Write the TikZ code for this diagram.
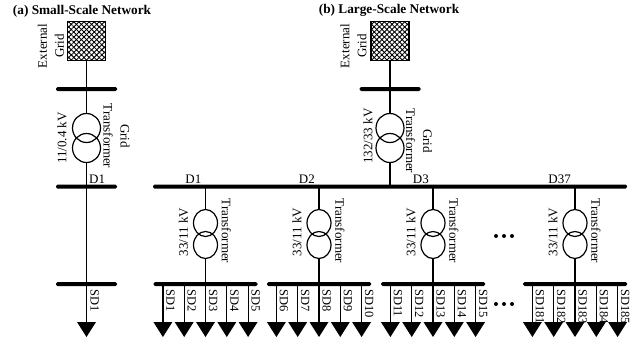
\documentclass[tikz,border=0pt]{standalone}
\usepackage{fontspec}
\setmainfont{Liberation Serif}
\usetikzlibrary{shapes.geometric,patterns.meta}
\begin{document}
\begin{tikzpicture}[x=1pt,y=-1pt,
  wire/.style={line width=1.2pt},
  busbar/.style={rectangle, fill=black, inner sep=0pt, minimum height=4pt, rounded corners=1.5pt},
  winding/.style={ellipse, draw, line width=1.2pt, inner sep=0pt},
  bigwinding/.style={winding, minimum width=28pt, minimum height=29pt},
  smallwinding/.style={winding, minimum width=24pt, minimum height=27pt},
  gridbox/.style={rectangle, draw, line width=1.2pt, minimum width=38pt, minimum height=39pt, inner sep=0pt,
    preaction={pattern={Lines[angle=45,distance=3.6pt,line width=0.9pt]}},
    pattern={Lines[angle=-45,distance=3.6pt,line width=0.9pt]}},
  lbl/.style={font=\fontsize{13}{17}\selectfont, inner sep=0pt, align=center},
  sdlbl/.style={font=\fontsize{12.5}{15}\selectfont, inner sep=0pt, rotate=-90, anchor=base west},
  ttl/.style={font=\fontsize{13.3}{16}\selectfont\bfseries, inner sep=0pt},
  loadtri/.style={fill=black}
]
\useasboundingbox (0,0) rectangle (634,340);

% ---------- (a) small-scale ----------
\node[ttl] (titleA) at (82,11) {(a) Small-Scale Network};
\node[gridbox] (egA) at (86.5,41) {};
\node[busbar, minimum width=61pt] (b0A) at (86.5,89) {};
\node[bigwinding] (t1A) at (86.5,128) {};
\node[bigwinding] (t2A) at (86.5,148) {};
\node[busbar, minimum width=61pt] (dA) at (86.5,186.5) {};
\node[busbar, minimum width=61pt] (sA) at (86.5,284) {};
\coordinate (ldA) at (86.5,322);
\fill[loadtri] (ldA) ++(-9.5,0) -- ++(19,0) -- ++(-9.5,15) -- cycle;
\draw[wire] (egA.south) -- (b0A.center) -- (t1A.north);
\draw[wire] (t2A.south) -- (dA.center) -- (sA.center) -- (ldA);
\node[lbl, rotate=90] (egAlbl) at (51,46) {External\\Grid};
\node[lbl, rotate=90] (vA) at (62,138) {11/0.4 kV};
\node[lbl, rotate=-90] (gtA) at (116.5,136) {Grid\\Transformer};
\node[lbl, anchor=base west] (dAlbl) at (89,183.5) {D1};
\node[sdlbl] (sdA) at (90.5,289) {SD1};

% ---------- (b) large-scale ----------
\node[ttl] (titleB) at (389,10) {(b) Large-Scale Network};
\node[gridbox] (egB) at (390,41) {};
\node[busbar, minimum width=61pt] (b0B) at (390,89) {};
\node[bigwinding] (t1B) at (390,128) {};
\node[bigwinding] (t2B) at (390,148) {};
\node[busbar, minimum width=474pt] (mB) at (390,186.5) {};
\draw[wire] (egB.south) -- (b0B.center) -- (t1B.north);
\draw[wire] (t2B.south) -- (t2B.south |- mB.center);
\node[lbl, rotate=90] (egBlbl) at (353.5,46) {External\\Grid};
\node[lbl, rotate=90] (vB) at (368,136) {132/33 kV};
\node[lbl, rotate=-90] (gtB) at (419,141) {Grid\\Transformer};

\foreach \c/\x/\d/\s in {1/205.5/D1/1, 2/319/D2/6, 3/433/D3/11, 4/575/D37/181} {
  \node[lbl, anchor=base east] (dl\c) at (\x-4,183.5) {\d};
  \node[smallwinding] (ta\c) at (\x,223) {};
  \node[smallwinding] (tb\c) at (\x,245) {};
  \node[busbar, minimum width=104pt] (sb\c) at (\x,284) {};
  \draw[wire] (ta\c.north) -- (ta\c.north |- mB.center);
  \draw[wire] (tb\c.south) -- (sb\c.center);
  \node[lbl, rotate=90] (vl\c) at (\x-22,232) {33/11 kV};
  \node[lbl, rotate=-90] (tl\c) at (\x+21,231) {Transformer};
  \foreach \i in {0,...,4} {
    \pgfmathsetmacro\lx{\x+(\i-2)*21.3}
    \coordinate (ld\c\i) at (\lx,322);
    \fill[loadtri] (ld\c\i) ++(-9.5,0) -- ++(19,0) -- ++(-9.5,15) -- cycle;
    \draw[wire] (ld\c\i) -- (ld\c\i |- sb\c.center);
  }
  \foreach \i in {0,...,4} {
    \pgfmathsetmacro\lx{\x+(\i-2)*21.3}
    \pgfmathtruncatemacro\n{\s+\i}
    \node[sdlbl] (sd\c\i) at (\lx+3.5,289) {SD\n};
  }
}

% ellipsis dots
\foreach \k in {0,1,2} {
  \fill (496+8*\k,236) circle (2pt);
  \fill (496+8*\k,304) circle (2pt);
}
\end{tikzpicture}
\end{document}
